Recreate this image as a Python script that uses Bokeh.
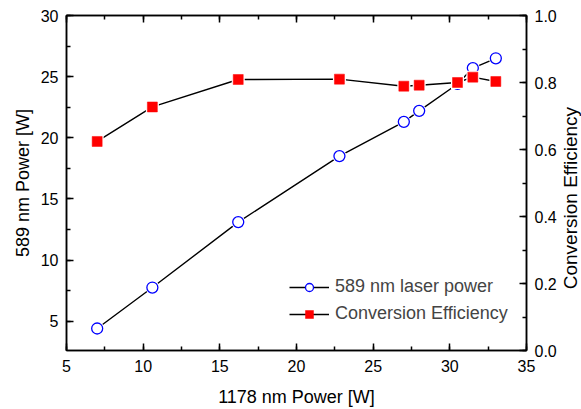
import math
from bokeh.plotting import figure
from bokeh.models import (Range1d, LinearAxis, SingleIntervalTicker, Legend, LegendItem,
                          PrintfTickFormatter, Label)
from bokeh.embed import file_html
from bokeh.resources import INLINE

# Data
pump_power = [7.0, 10.6, 16.2, 22.8, 27.0, 28.0, 30.5, 31.5, 33.0]
laser_power = [4.4, 7.75, 13.1, 18.5, 21.3, 22.2, 24.4, 25.7, 26.5]
efficiency = [0.624, 0.727, 0.809, 0.810, 0.789, 0.792, 0.800, 0.816, 0.803]

x_label = "1178 nm Power [W]"
y_label = "589 nm Power [W]"
y2_label = "Conversion Efficiency"
series_names = ["589 nm laser power", "Conversion Efficiency"]

FONT = "Liberation Sans"

p = figure(width=581, height=409, output_backend="svg", toolbar_location=None,
           x_range=Range1d(5, 35), y_range=Range1d(2.6, 30),
           min_border_left=66, min_border_right=55, min_border_top=15, min_border_bottom=57,
           x_axis_label=x_label, y_axis_label=y_label)
p.extra_y_ranges = {"eff": Range1d(0, 1)}
p.grid.visible = False
p.outline_line_color = "black"
p.outline_line_width = 1.5
p.background_fill_color = "white"
p.border_fill_color = "white"


def style_axis(ax, interval):
    ax.ticker = SingleIntervalTicker(interval=interval, num_minor_ticks=2)
    ax.axis_line_color = "black"
    ax.axis_line_width = 1.5
    ax.major_tick_in = 7
    ax.major_tick_out = 0
    ax.minor_tick_in = 4
    ax.minor_tick_out = 0
    ax.major_tick_line_width = 1.5
    ax.minor_tick_line_width = 1.5
    ax.major_label_text_font = FONT
    ax.major_label_text_font_size = "16px"
    ax.major_label_text_color = "black"
    ax.major_label_standoff = 9
    ax.axis_label_text_font = FONT
    ax.axis_label_text_font_size = "18px"
    ax.axis_label_text_font_style = "normal"
    ax.axis_label_text_color = "black"


style_axis(p.xaxis[0], 5)
p.xaxis[0].axis_label_standoff = 12
style_axis(p.yaxis[0], 5)
p.yaxis[0].major_label_standoff = 8
p.yaxis[0].axis_label_standoff = 5

right = LinearAxis(y_range_name="eff", formatter=PrintfTickFormatter(format="%.1f"))
style_axis(right, 0.2)
right.major_label_standoff = 8
p.add_layout(right, "right")

# right-hand axis title, reading bottom-to-top as in the reference
p.add_layout(Label(x=37.87, y=0.455, y_range_name="eff", angle=math.pi / 2,
                   text=y2_label, text_align="center", text_baseline="middle",
                   text_font=FONT, text_font_size="19px", text_color="black"), "right")

top = LinearAxis()
style_axis(top, 5)
top.major_label_text_font_size = "1px"
top.major_label_text_color = None
top.major_label_standoff = 0
p.add_layout(top, "above")

# 589 nm laser power (left axis)
l1 = p.line(pump_power, laser_power, line_color="black", line_width=1.4)
p.scatter(pump_power, laser_power, marker="circle", size=14, fill_color="white",
          line_color=None)
m1 = p.scatter(pump_power, laser_power, marker="circle", size=11, fill_color="white",
               line_color="#0000ff", line_width=1.3)

# Conversion efficiency (right axis)
l2 = p.line(pump_power, efficiency, line_color="black", line_width=1.4, y_range_name="eff")
p.scatter(pump_power, efficiency, marker="square", size=13, fill_color="white",
          line_color=None, y_range_name="eff")
m2 = p.scatter(pump_power, efficiency, marker="square", size=10, fill_color="#ff0000",
               line_color="#ff0000", line_width=0.5, y_range_name="eff")

legend = Legend(items=[LegendItem(label=series_names[0], renderers=[l1, m1]),
                       LegendItem(label=series_names[1], renderers=[l2, m2])],
                location=(223, 26), padding=0, margin=0, spacing=6,
                glyph_width=40, glyph_height=20, label_height=20, label_standoff=6,
                label_text_font=FONT, label_text_font_size="18px",
                border_line_color=None, background_fill_alpha=0)
p.add_layout(legend, "center")

open("out.html", "w").write(file_html(p, INLINE))
